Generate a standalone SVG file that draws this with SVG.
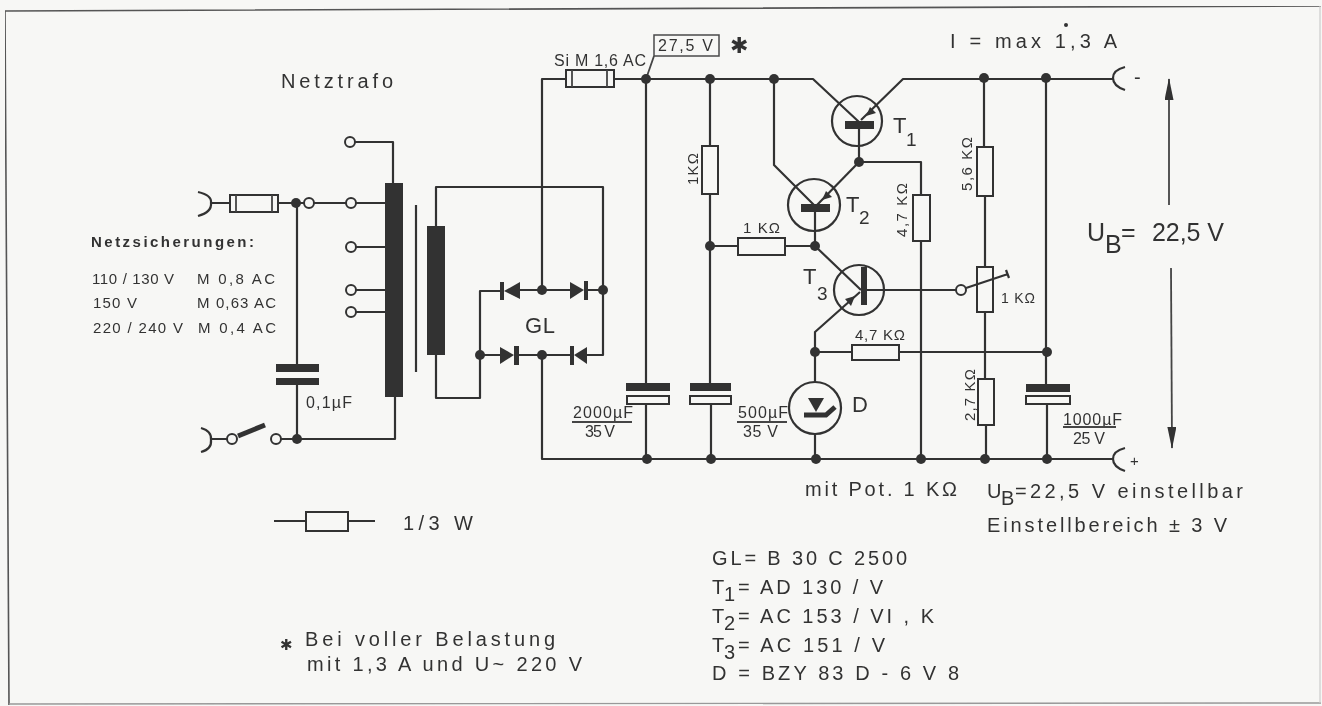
<svg xmlns="http://www.w3.org/2000/svg" width="1322" height="706" viewBox="0 0 1322 706">
<style>
.w{fill:none;stroke:#333;stroke-width:2.2;stroke-linejoin:round}
.thin{fill:none;stroke:#444;stroke-width:1.8}
.box{fill:#f7f7f5;stroke:#333;stroke-width:2}
.solid{fill:#333;stroke:none}
.dot{fill:#333;stroke:none}
.term{fill:#f7f7f5;stroke:#333;stroke-width:2}
.ring{fill:none;stroke:#333;stroke-width:2.2}
text{font-family:"Liberation Sans",Arial,sans-serif;fill:#333;font-size:16px}
.s14{font-size:15px}.s13{font-size:14px}.s18{font-size:20px}.s20{font-size:22px}.s23{font-size:25px}.sub{font-size:19px}
.star{font-family:"DejaVu Sans",sans-serif}
</style>
<defs>
<marker id="ah" markerWidth="22" markerHeight="9" refX="21" refY="4.5" orient="auto" markerUnits="userSpaceOnUse" viewBox="0 0 22 9"><path d="M0 0L22 4.5L0 9z" fill="#333"/></marker>
<filter id="soft" x="0" y="0" width="100%" height="100%"><feGaussianBlur stdDeviation="0.45"/></filter>
</defs>
<rect width="1322" height="706" fill="#f7f7f5"/>
<g filter="url(#soft)">
<path id="frame" d="M9 705L5 11L1321 6" fill="none" stroke="#555" stroke-width="1.6"/>
<path d="M9 704L1321 703" fill="none" stroke="#999" stroke-width="1.4"/>
<path d="M1320 6V703" fill="none" stroke="#ccc" stroke-width="1.2"/>

<g id="connectors">
<path class="w" d="M211 203H230M278 203H351M356 203H385"/>
<path class="w" d="M297 203V364M297 385V439H395V397"/>
<path class="w" d="M212 439H227M281 439H297"/>
<path class="w" d="M355 142H393V183"/>
<path class="w" d="M356 247H385M356 290H385M356 312H385"/>
<path class="w" d="M436 226V187H603V355H577"/>
<path class="w" d="M436 355V398H480V291H500M480 355H500"/>
<path class="w" d="M520 290H570M584 290H603M516 355H570"/>
<path class="w" d="M542 290V79H566M614 79H813L859 122"/>
<path class="w" d="M542 355V459H1113"/>
<path class="w" d="M646 79V383M646 404V459"/>
<path class="w" d="M710 79V146M710 194V383M711 404V459"/>
<path class="w" d="M710 246H738M785 246H815L861 290"/>
<path class="w" d="M774 79V165L815 206"/>
<path class="w" d="M861 120L903 79H1113"/>
<path class="w" d="M859 125V162H921V195M921 241V459"/>
<path class="w" d="M859 162L817 205"/>
<path class="w" d="M815 208V246"/>
<path class="w" d="M860 292L815 332V382M815 434V459"/>
<path class="w" d="M815 352H852M899 352H1047"/>
<path class="w" d="M866 290H956"/>
<path class="w" d="M984 78V147M985 196V267M985 312V379M986 425V459"/>
<path class="w" d="M1046 78V384M1047 404V459"/>
<path class="thin" d="M646 79L654 56"/>
<path class="thin" d="M1169 205V79" marker-end="url(#ah)"/>
<path class="thin" d="M1171 268L1172 448" marker-end="url(#ah)"/>
</g>

<g id="dots">
<circle class="dot" cx="296" cy="203" r="5"/><circle class="dot" cx="297" cy="439" r="5"/>
<circle class="dot" cx="480" cy="355" r="5"/><circle class="dot" cx="542" cy="290" r="5"/>
<circle class="dot" cx="603" cy="290" r="5"/><circle class="dot" cx="542" cy="355" r="5"/>
<circle class="dot" cx="646" cy="79" r="5"/><circle class="dot" cx="710" cy="79" r="5"/>
<circle class="dot" cx="774" cy="79" r="5"/><circle class="dot" cx="859" cy="162" r="5"/>
<circle class="dot" cx="710" cy="246" r="5"/><circle class="dot" cx="815" cy="246" r="5"/>
<circle class="dot" cx="815" cy="352" r="5"/><circle class="dot" cx="984" cy="78" r="5"/>
<circle class="dot" cx="1046" cy="78" r="5"/><circle class="dot" cx="1047" cy="352" r="5"/>
<circle class="dot" cx="647" cy="459" r="5"/><circle class="dot" cx="711" cy="459" r="5"/>
<circle class="dot" cx="816" cy="459" r="5"/><circle class="dot" cx="921" cy="459" r="5"/>
<circle class="dot" cx="985" cy="459" r="5"/><circle class="dot" cx="1047" cy="459" r="5"/>
</g>

<g id="socket-in-top"><path class="w" d="M198 192Q212 195 211 203Q212 212 198 216"/></g>
<g id="socket-in-bottom"><path class="w" d="M201 428Q212 431 211 440Q212 449 201 452"/></g>
<g id="socket-minus"><path class="w" d="M1125 67Q1113 70 1113 78Q1113 86 1125 90"/><text x="1134" y="84" class="s18">-</text></g>
<g id="socket-plus"><path class="w" d="M1125 448Q1113 451 1113 459Q1113 467 1125 471"/><text x="1130" y="466" class="s14">+</text></g>

<g id="mains-fuse"><rect class="box" x="230" y="195" width="48" height="17"/><path class="thin" d="M236 195V212M272 195V212"/></g>
<g id="mains-terminal-a"><circle class="term" cx="309" cy="203" r="5"/></g>
<g id="switch"><circle class="term" cx="232" cy="439" r="5"/><path d="M238 436L265 425" stroke="#333" stroke-width="5" fill="none"/><circle class="term" cx="276" cy="439" r="5"/></g>
<g id="c-01"><rect class="solid" x="276" y="364" width="43" height="8"/><rect class="solid" x="276" y="378" width="43" height="7"/><text x="306" y="408" textLength="46" lengthAdjust="spacing">0,1µF</text></g>

<g id="transformer">
<circle class="term" cx="350" cy="142" r="5"/><circle class="term" cx="351" cy="203" r="5"/>
<circle class="term" cx="351" cy="247" r="5"/><circle class="term" cx="351" cy="290" r="5"/><circle class="term" cx="351" cy="312" r="5"/>
<rect class="solid" x="385" y="183" width="18" height="214"/>
<path class="w" d="M416 205V372"/>
<rect class="solid" x="427" y="226" width="18" height="129"/>
<text x="281" y="88" class="s18" textLength="112" lengthAdjust="spacing">Netztrafo</text>
</g>

<g id="bridge-gl">
<path class="solid" d="M520 282V299L504 291z"/><rect class="solid" x="500" y="282" width="4" height="18"/>
<path class="solid" d="M570 282V299L584 290z"/><rect class="solid" x="584" y="281" width="4" height="19"/>
<path class="solid" d="M500 347V364L514 355z"/><rect class="solid" x="514" y="346" width="5" height="19"/>
<path class="solid" d="M587 347V364L574 355z"/><rect class="solid" x="570" y="346" width="4" height="19"/>
<text x="525" y="333" class="s20" textLength="30" lengthAdjust="spacing">GL</text>
</g>

<g id="fuse-si"><rect class="box" x="566" y="70" width="48" height="17"/><path class="thin" d="M572 70V87M607 70V87"/><text x="554" y="66" textLength="92" lengthAdjust="spacing">Si M 1,6 AC</text></g>
<g id="test-voltage"><rect x="654" y="35" width="65" height="21" fill="#f7f7f5" stroke="#4a4a4a" stroke-width="1.5"/><text x="658" y="51" textLength="55" lengthAdjust="spacing">27,5 V</text><text x="730" y="53" class="s20 star">✱</text></g>

<g id="c-2000"><rect class="solid" x="626" y="383" width="44" height="8"/><rect class="box" x="627" y="396" width="42" height="8"/><text x="573" y="418" textLength="60" lengthAdjust="spacing">2000µF</text><path class="thin" d="M572 422H632"/><text x="585" y="437" textLength="30" lengthAdjust="spacing">35 V</text></g>
<g id="c-500"><rect class="solid" x="690" y="383" width="41" height="8"/><rect class="box" x="690" y="396" width="41" height="8"/><text x="738" y="418" textLength="50" lengthAdjust="spacing">500µF</text><path class="thin" d="M737 422H787"/><text x="743" y="437" textLength="35" lengthAdjust="spacing">35 V</text></g>
<g id="c-1000"><rect class="solid" x="1026" y="384" width="44" height="8"/><rect class="box" x="1026" y="396" width="44" height="8"/><text x="1063" y="425" textLength="59" lengthAdjust="spacing">1000µF</text><path class="thin" d="M1063 427H1116"/><text x="1073" y="444" textLength="32" lengthAdjust="spacing">25 V</text></g>

<g id="r-1k-vert"><rect class="box" x="702" y="146" width="16" height="48"/><text transform="translate(698 185) rotate(-90)" class="s14" textLength="32" lengthAdjust="spacing">1KΩ</text></g>
<g id="r-1k-horiz"><rect class="box" x="738" y="238" width="47" height="17"/><text x="743" y="233" class="s14" textLength="37" lengthAdjust="spacing">1 KΩ</text></g>
<g id="r-47k-base"><rect class="box" x="913" y="195" width="17" height="46"/><text transform="translate(907 237) rotate(-90)" class="s14" textLength="54" lengthAdjust="spacing">4,7 KΩ</text></g>
<g id="r-47k-horiz"><rect class="box" x="852" y="345" width="47" height="15"/><text x="855" y="340" class="s14" textLength="50" lengthAdjust="spacing">4,7 KΩ</text></g>
<g id="r-56k"><rect class="box" x="977" y="147" width="16" height="49"/><text transform="translate(972 191) rotate(-90)" class="s14" textLength="54" lengthAdjust="spacing">5,6 KΩ</text></g>
<g id="pot-1k"><rect class="box" x="977" y="267" width="16" height="45"/><circle class="term" cx="961" cy="290" r="5"/><path class="w" d="M966 288L1008 274M1006 270L1009 278"/><text x="1001" y="303" class="s13" textLength="34" lengthAdjust="spacing">1 KΩ</text></g>
<g id="r-27k"><rect class="box" x="978" y="379" width="16" height="46"/><text transform="translate(975 421) rotate(-90)" class="s14" textLength="52" lengthAdjust="spacing">2,7 KΩ</text></g>

<g id="t1"><circle class="ring" cx="857" cy="121" r="25"/><rect class="solid" x="845" y="121" width="29" height="8"/><path class="solid" d="M866 116L870 107L876 113z"/><text x="893" y="133" class="s20">T</text><text x="906" y="146" class="sub">1</text></g>
<g id="t2"><circle class="ring" cx="814" cy="205" r="26"/><rect class="solid" x="801" y="204" width="29" height="8"/><path class="solid" d="M822 200L826 191L832 197z"/><text x="846" y="212" class="s20">T</text><text x="859" y="224" class="sub">2</text></g>
<g id="t3"><circle class="ring" cx="859" cy="290" r="25"/><rect class="solid" x="861" y="267" width="6" height="38"/><path class="solid" d="M855 296L845 299L851 306z"/><text x="803" y="284" class="s20">T</text><text x="817" y="300" class="sub">3</text></g>
<g id="zener-d"><circle class="ring" cx="815" cy="408" r="26"/><path class="solid" d="M808 398H824L816 412z"/><path d="M804 415H826L835 407" fill="none" stroke="#333" stroke-width="5"/><text x="852" y="412" class="s20">D</text></g>

<g id="labels">
<text x="91" y="247" class="s14" font-weight="bold" textLength="163" lengthAdjust="spacing">Netzsicherungen:</text>
<text x="92" y="284" class="s14" textLength="82" lengthAdjust="spacing">110 / 130 V</text>
<text x="197" y="284" class="s14" textLength="78" lengthAdjust="spacing">M 0,8  AC</text>
<text x="93" y="308" class="s14" textLength="44" lengthAdjust="spacing">150 V</text>
<text x="197" y="308" class="s14" textLength="79" lengthAdjust="spacing">M 0,63 AC</text>
<text x="93" y="333" class="s14" textLength="90" lengthAdjust="spacing">220 / 240 V</text>
<text x="198" y="333" class="s14" textLength="78" lengthAdjust="spacing">M 0,4  AC</text>

<text x="950" y="48" class="s18" textLength="167" lengthAdjust="spacing">I = max  1,3 A</text>
<circle class="dot" cx="1066" cy="25" r="2"/>
<text class="s23" y="241"><tspan x="1087">U</tspan><tspan x="1105" dy="12">B</tspan><tspan x="1121" dy="-12">=</tspan><tspan x="1152" textLength="72" lengthAdjust="spacing">22,5 V</tspan></text>
<text x="805" y="496" class="s18" textLength="152" lengthAdjust="spacing">mit Pot. 1 KΩ</text>
<text class="s18" y="498"><tspan x="987">U</tspan><tspan x="1001" dy="7">B</tspan><tspan x="1015" dy="-7">=</tspan><tspan x="1030" textLength="213" lengthAdjust="spacing">22,5 V  einstellbar</tspan></text>
<text x="987" y="532" class="s18" textLength="240" lengthAdjust="spacing">Einstellbereich ± 3 V</text>

<text x="403" y="530" class="s18" textLength="70" lengthAdjust="spacing">1/3 W</text>
<text x="280" y="650" class="s14 star">✱</text>
<text x="305" y="646" class="s18" textLength="250" lengthAdjust="spacing">Bei voller Belastung</text>
<text x="307" y="671" class="s18" textLength="275" lengthAdjust="spacing">mit 1,3 A und U~ 220 V</text>

<text x="712" y="565" class="s18" textLength="195" lengthAdjust="spacing">GL= B 30 C 2500</text>
<text class="s18" y="594"><tspan x="712">T</tspan><tspan x="724" dy="7">1</tspan><tspan x="738" dy="-7" textLength="145" lengthAdjust="spacing">= AD 130 / V</tspan></text>
<text class="s18" y="623"><tspan x="712">T</tspan><tspan x="724" dy="7">2</tspan><tspan x="738" dy="-7" textLength="196" lengthAdjust="spacing">= AC 153 / VI , K</tspan></text>
<text class="s18" y="652"><tspan x="712">T</tspan><tspan x="724" dy="7">3</tspan><tspan x="738" dy="-7" textLength="147" lengthAdjust="spacing">= AC 151 / V</tspan></text>
<text x="712" y="680" class="s18" textLength="247" lengthAdjust="spacing">D  = BZY 83 D - 6 V 8</text>
</g>

<g id="legend-resistor"><path class="w" d="M274 521H306M348 521H375"/><rect class="box" x="306" y="512" width="42" height="19"/></g>
</g>
</svg>
